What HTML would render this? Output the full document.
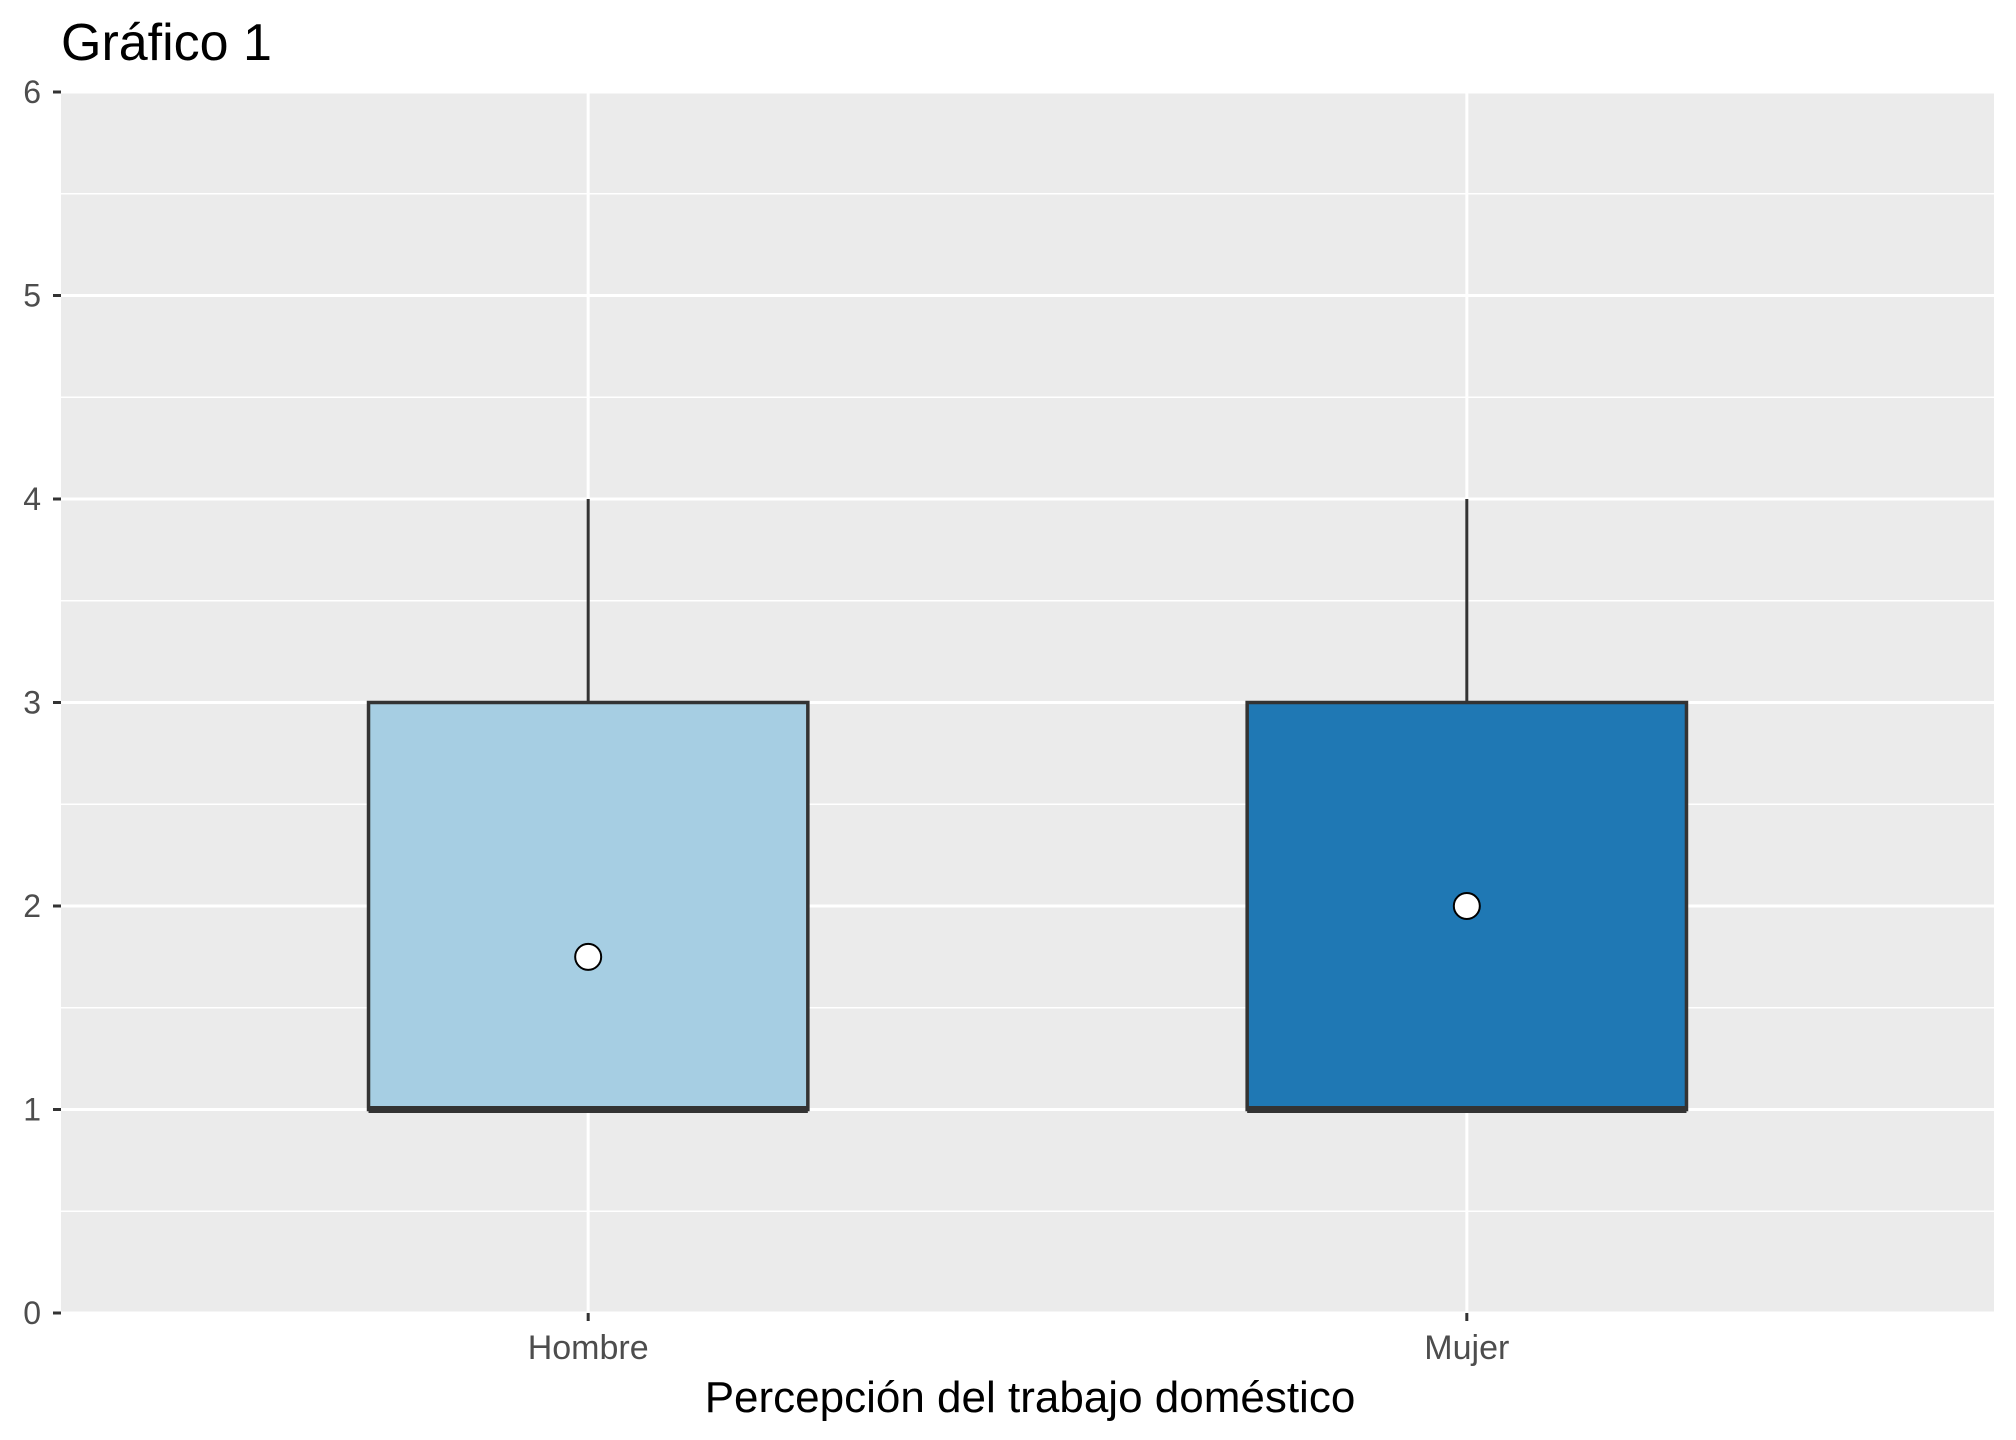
<!DOCTYPE html>
<html><head><meta charset="utf-8"><style>
html,body{margin:0;padding:0;background:#fff}
svg{display:block;font-family:"Liberation Sans",Arial,sans-serif}
</style></head><body>
<svg id="chart" width="2016" height="1440" viewBox="0 0 2016 1440">
<text x="61" y="60" font-size="52" fill="#000">Gráfico 1</text>
<rect x="61" y="92" width="1933" height="1221" fill="#ebebeb" id="panel"/>
<g id="grid"></g><g id="axes"></g><g id="marks"></g>
<text x="1030" y="1412" font-size="44" text-anchor="middle" fill="#000">Percepción del trabajo doméstico</text>
</svg>
<script>
const categories = ["Hombre","Mujer"];
const mins = [1,1];
const q1s = [1,1];
const medians = [1,1];
const q3s = [3,3];
const maxs = [4,4];
const means = [1.75,2];
const yTicks = [0,1,2,3,4,5,6];
const colors = ["#a6cee3","#1f78b4"];

const NS="http://www.w3.org/2000/svg";
const px0=61,px1=1994,py0=1313,py1=92;
const yMin=0,yMax=6;
function y(v){return py0-(v-yMin)/(yMax-yMin)*(py0-py1);}
const unit=(px1-px0)/(categories.length+0.2);
function x(i){return px0+unit*(i+0.6);}
const boxHalf=unit*0.25;
const panel=document.getElementById('panel');
panel.setAttribute('width',px1-px0);
panel.setAttribute('height',py0-py1);
function mk(tag,attrs,parent){const e=document.createElementNS(NS,tag);for(const k in attrs)e.setAttribute(k,attrs[k]);parent.appendChild(e);return e;}
const grid=document.getElementById('grid'),axes=document.getElementById('axes'),marks=document.getElementById('marks');
for(let i=0;i<yTicks.length-1;i++){
  const m=(yTicks[i]+yTicks[i+1])/2;
  const l=mk('line',{x1:px0,x2:px1,y1:y(m),y2:y(m),stroke:'#fff','stroke-width':1.5},grid);
  
  
}
yTicks.forEach(t=>{
  const l=mk('line',{x1:px0,x2:px1,y1:y(t),y2:y(t),stroke:'#fff','stroke-width':3},grid);
  
  
  const tk=mk('line',{x1:px0-8,x2:px0,y1:y(t),y2:y(t),stroke:'#333','stroke-width':3},axes);
  
  
  const tx=mk('text',{x:px0-20,y:y(t)+11,'font-size':32,'text-anchor':'end',fill:'#4d4d4d'},axes);
  tx.textContent=t;
  
  
});
categories.forEach((c,i)=>{
  const cx=x(i);
  const l=mk('line',{x1:cx,x2:cx,y1:py1,y2:py0,stroke:'#fff','stroke-width':3},grid);
  
  
  const tk=mk('line',{x1:cx,x2:cx,y1:py0,y2:py0+8,stroke:'#333','stroke-width':3},axes);
  
  
  const tx=mk('text',{x:cx,y:py0+46,'font-size':34,'text-anchor':'middle',fill:'#4d4d4d'},axes);
  tx.textContent=c;
  
  
  const g=mk('g',{},marks);
  
  
  const w1=mk('line',{x1:cx,x2:cx,y1:y(q3s[i]),y2:y(maxs[i]),stroke:'#333','stroke-width':3},g);
  
  
  const w2=mk('line',{x1:cx,x2:cx,y1:y(q1s[i]),y2:y(mins[i]),stroke:'#333','stroke-width':3},g);
  
  
  const r=mk('rect',{x:cx-boxHalf,y:y(q3s[i]),width:2*boxHalf,height:y(q1s[i])-y(q3s[i]),fill:colors[i],stroke:'#333','stroke-width':3.5},g);
  
  
  const md=mk('line',{x1:cx-boxHalf,x2:cx+boxHalf,y1:y(medians[i]),y2:y(medians[i]),stroke:'#333','stroke-width':7},g);
  
  
  const p=mk('circle',{cx:cx,cy:y(means[i]),r:13,fill:'#fff',stroke:'#000','stroke-width':2},g);
  
  
});
</script>
</body></html>
